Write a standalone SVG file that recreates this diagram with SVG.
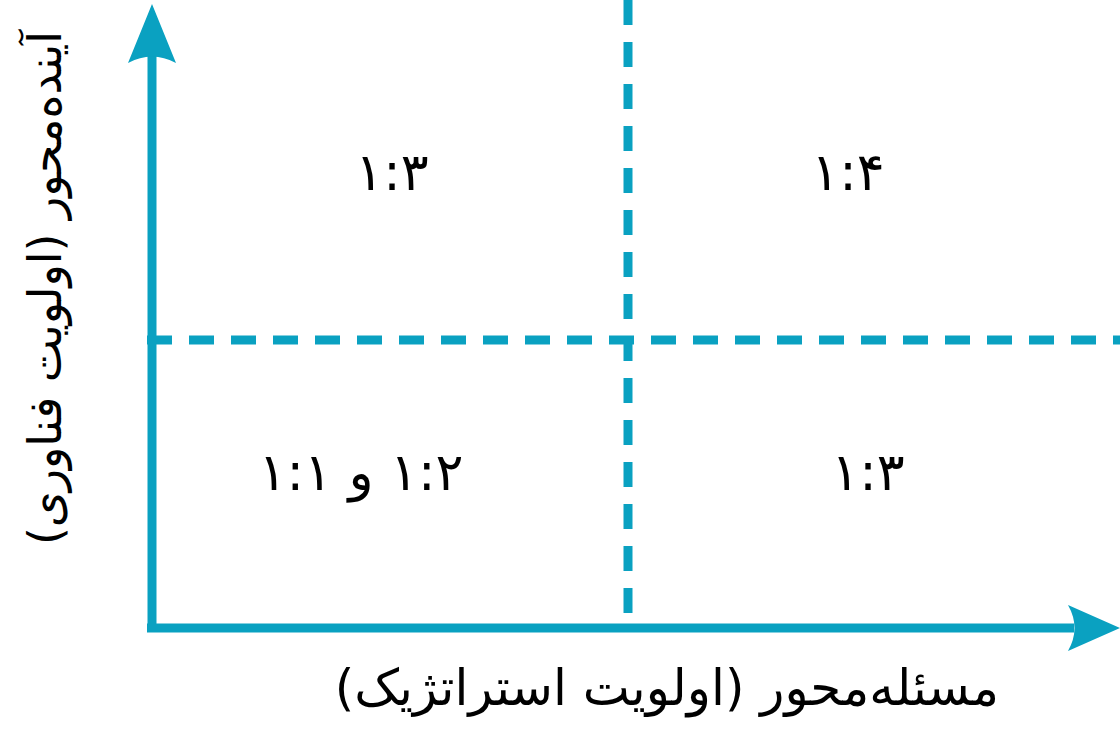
<svg xmlns="http://www.w3.org/2000/svg" width="1120" height="729" viewBox="0 0 1120 729">
<style>
.axis{stroke:#0aa1c1;stroke-width:9;fill:none}
.dash{stroke:#0aa1c1;stroke-width:9;fill:none;stroke-dasharray:25 17}
.head{fill:#0aa1c1;stroke:none}
.lbl{font-family:"DejaVu Sans",sans-serif;fill:#000;text-anchor:middle}
.num{font-size:52px}
.ax{font-size:50px}
.ay{font-size:46px}
</style>
<rect width="1120" height="729" fill="#fff"/>
<g id="connectors">
<path class="dash" d="M628,0 V628"/>
<path class="dash" d="M147,340 H1120"/>
<path class="axis" d="M152,628 V52"/>
<path class="axis" d="M147,628 H1074"/>
<path class="head" d="M152,4 L176,63 Q152,50 128,63 Z"/>
<path class="head" d="M1120,628 L1068,651 Q1081,628 1068,605 Z"/>
</g>
<g id="q-top-left"><text class="lbl num" x="392" y="190" direction="rtl">۱:۳</text></g>
<g id="q-top-right"><text class="lbl num" x="848" y="190" direction="rtl">۱:۴</text></g>
<g id="q-bottom-left"><text class="lbl num" x="361" y="490" direction="rtl">۱:۲ و ۱:۱</text></g>
<g id="q-bottom-right"><text class="lbl num" x="868" y="490" direction="rtl">۱:۳</text></g>
<g id="x-label"><text class="lbl ax" x="667" y="705" direction="rtl">مسئله‌محور (اولویت استراتژیک)</text></g>
<g id="y-label"><text class="lbl ay" transform="translate(61,288) rotate(-90)" x="0" y="0" direction="rtl">آینده‌محور (اولویت فناوری)</text></g>
</svg>
